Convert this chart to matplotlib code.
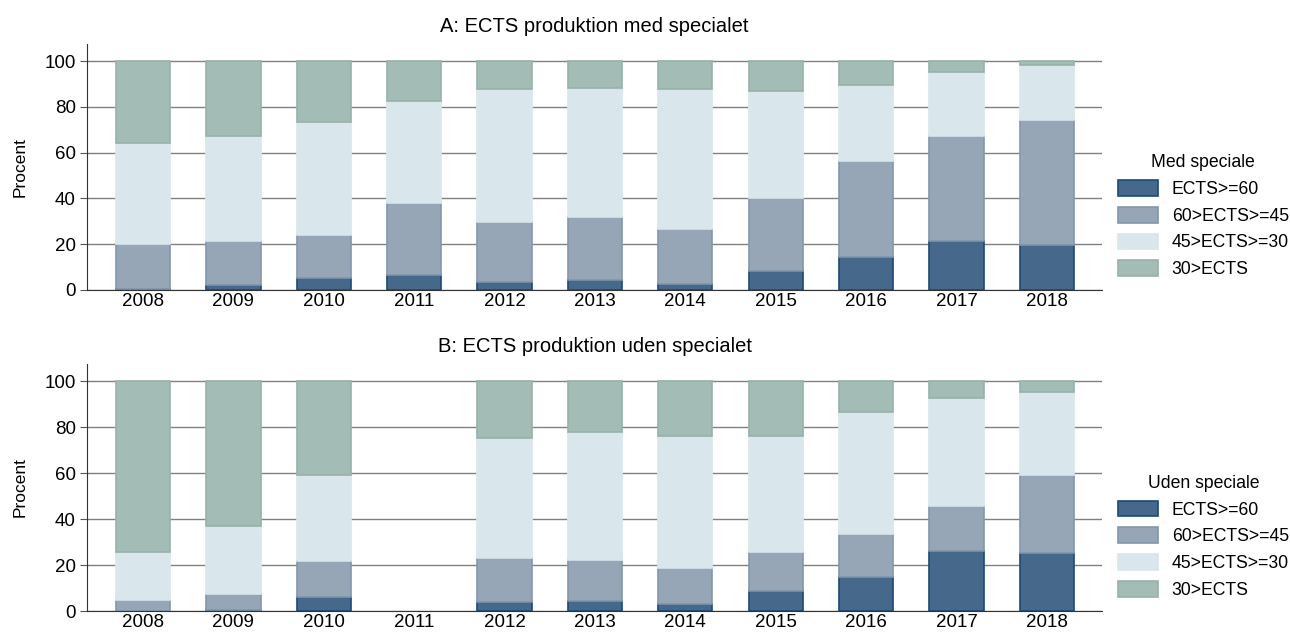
import numpy as np
import matplotlib.pyplot as plt
from matplotlib.patches import Patch

plt.rcParams['font.family'] = ['Liberation Sans', 'DejaVu Sans']

years = ['2008', '2009', '2010', '2011', '2012', '2013', '2014', '2015', '2016', '2017', '2018']
labels = ['ECTS>=60', '60>ECTS>=45', '45>ECTS>=30', '30>ECTS']

# Panel A: med specialet (percent per category)
med_60 = [0.6, 2.3, 5.1, 6.7, 3.3, 4.5, 2.8, 8.5, 14.6, 21.6, 19.8]
med_45 = [19.7, 19.3, 19.1, 31.4, 26.5, 27.2, 24.0, 31.5, 41.6, 45.5, 54.4]
med_30 = [43.9, 45.5, 49.2, 44.4, 58.1, 56.6, 60.9, 47.0, 33.4, 28.2, 24.2]
med_lt30 = [35.8, 32.9, 26.6, 17.5, 12.1, 11.7, 12.3, 13.0, 10.4, 4.7, 1.6]

# Panel B: uden specialet (no data for 2011)
uden_60 = [0.0, 0.4, 6.1, 0.0, 3.9, 4.5, 3.1, 8.6, 14.9, 26.2, 25.4]
uden_45 = [4.8, 7.0, 15.6, 0.0, 19.3, 17.8, 15.7, 17.2, 18.8, 19.7, 33.6]
uden_30 = [20.7, 29.5, 37.5, 0.0, 52.2, 55.7, 57.4, 50.4, 53.0, 46.9, 36.5]
uden_lt30 = [74.5, 63.1, 40.8, 0.0, 24.6, 22.0, 23.8, 23.8, 13.3, 7.2, 4.5]

fills = ['#46688a', '#97a6b7', '#d9e6ec', '#a3bcb5']
edges = ['#1d4a72', '#8197ad', '#d9e6ec', '#97b2aa']

fig = plt.figure(figsize=(12.9, 6.32), dpi=100)
ax1 = fig.add_axes([87 / 1290, 1 - 290 / 632, 1015 / 1290, 246 / 632])
ax2 = fig.add_axes([87 / 1290, 1 - 611 / 632, 1015 / 1290, 247 / 632])


def draw_panel(ax, series, title, legend_title):
    x = np.arange(len(years))
    bottom = np.zeros(len(years))
    for vals, fc, ec in zip(series, fills, edges):
        vals = np.array(vals)
        keep = vals > 0
        ax.bar(x[keep], vals[keep], bottom=bottom[keep], width=0.6, color=fc,
               edgecolor=ec, linewidth=1.2, zorder=2)
        bottom += vals
    ax.set_xlim(-0.62, len(years) - 1 + 0.61)
    ax.set_ylim(0, 107.5)
    ax.set_yticks([0, 20, 40, 60, 80, 100])
    ax.set_xticks(x)
    ax.set_xticklabels(years)
    ax.yaxis.grid(True, color='#808080', linewidth=1.0, zorder=1)
    ax.set_axisbelow(True)
    for s in ['top', 'right']:
        ax.spines[s].set_visible(False)
    ax.spines['left'].set_color('#333333')
    ax.spines['bottom'].set_color('#333333')
    ax.tick_params(axis='x', length=0, labelsize=13.5, pad=2)
    ax.tick_params(axis='y', length=5, labelsize=13.5, color='#555555', pad=3)
    ax.set_ylabel('Procent', fontsize=12.5, labelpad=12)
    ax.set_title(title, fontsize=14.5, pad=9)
    handles = [Patch(facecolor=fc, edgecolor=ec, linewidth=1.2) for fc, ec in zip(fills, edges)]
    ax.legend(handles, labels, title=legend_title, loc='center left',
              bbox_to_anchor=(1.0, 0.3), borderaxespad=0.5, frameon=False,
              fontsize=12.7, title_fontsize=12.7, handlelength=2.3,
              handleheight=1.0, labelspacing=0.5, handletextpad=0.75)


draw_panel(ax1, [med_60, med_45, med_30, med_lt30],
           'A: ECTS produktion med specialet', 'Med speciale')
draw_panel(ax2, [uden_60, uden_45, uden_30, uden_lt30],
           'B: ECTS produktion uden specialet', 'Uden speciale')

fig.savefig('out.png', dpi=100)
